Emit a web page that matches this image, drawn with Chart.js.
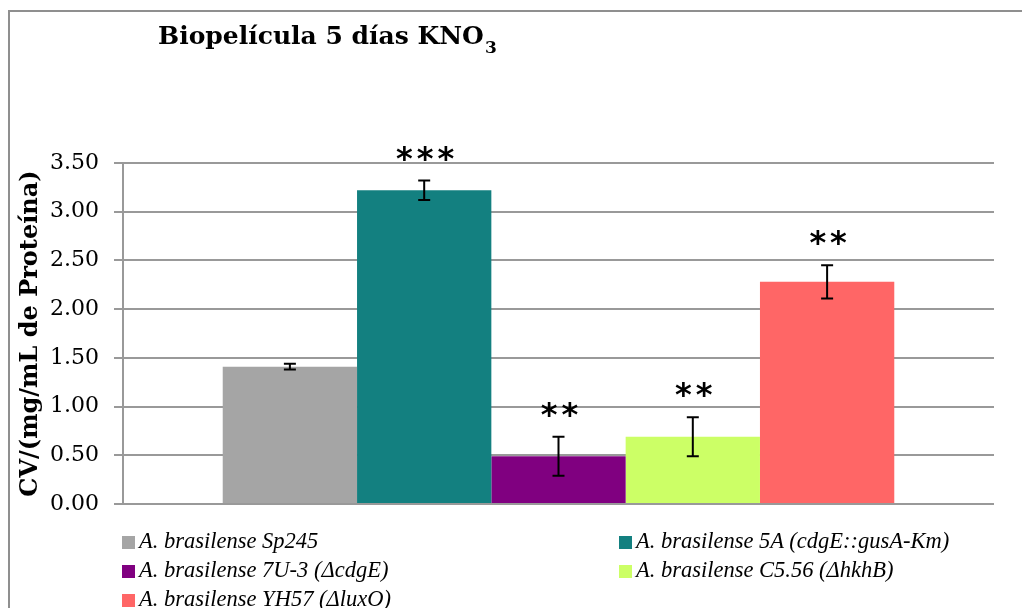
<!DOCTYPE html>
<html>
<head>
<meta charset="utf-8">
<script src="https://cdn.jsdelivr.net/npm/chart.js@4.4.0/dist/chart.umd.min.js"></script>
<style>
  html, body { margin: 0; padding: 0; background: #fff; }
  #wrap { position: relative; width: 1022px; height: 608px; overflow: hidden; }
  #frame { position: absolute; left: 8px; top: 10px; width: 1100px; height: 700px; border: 2px solid #8f8f8f; }
  #chart { position: absolute; left: 0; top: 0; }
  #legend {
    position: absolute; left: 122px; top: 526px;
    display: grid; grid-template-columns: 497px auto;
    font: italic 22.5px "Liberation Serif", serif; line-height: 29px; color: #000;
  }
  #legend .box { display: inline-block; width: 13px; height: 13px; margin-right: 4px; vertical-align: -1px; }
</style>
</head>
<body>
<div id="wrap">
  <div id="frame"></div>
  <canvas id="chart" width="1022" height="608"></canvas>
  <div id="legend"></div>
</div>
<script>
// data
const strainLabels = [
  'A. brasilense Sp245',
  'A. brasilense 5A (cdgE::gusA-Km)',
  'A. brasilense 7U-3 (ΔcdgE)',
  'A. brasilense C5.56 (ΔhkhB)',
  'A. brasilense YH57 (ΔluxO)'
];
const meanValues = [1.41, 3.22, 0.49, 0.69, 2.28];
const errorValues = [0.03, 0.10, 0.20, 0.20, 0.17];
const significance = ['', '***', '**', '**', '**'];
const barColors = ['#A5A5A5', '#138080', '#800080', '#CCFF66', '#FF6666'];

const titleMain = 'Biopelícula 5 días KNO';
const titleSub = '3';

// error bars + asterisks
const errorBarPlugin = {
  id: 'errorBars',
  afterDatasetsDraw(chart) {
    const ctx = chart.ctx;
    const y = chart.scales.y;
    ctx.save();
    ctx.strokeStyle = '#000';
    ctx.lineWidth = 2;
    chart.data.datasets.forEach((ds, i) => {
      const bar = chart.getDatasetMeta(i).data[0];
      const top = y.getPixelForValue(meanValues[i] + errorValues[i]);
      const bot = y.getPixelForValue(meanValues[i] - errorValues[i]);
      ctx.beginPath();
      ctx.moveTo(bar.x, top); ctx.lineTo(bar.x, bot);
      ctx.moveTo(bar.x - 6, top); ctx.lineTo(bar.x + 6, top);
      ctx.moveTo(bar.x - 6, bot); ctx.lineTo(bar.x + 6, bot);
      ctx.stroke();
      if (significance[i]) {
        ctx.fillStyle = '#000';
        ctx.font = 'bold 32px "DejaVu Sans"';
        ctx.textAlign = 'center';
        ctx.textBaseline = 'alphabetic';
        ctx.letterSpacing = '4px';
        ctx.fillText(significance[i], bar.x + 3, top - 12);
      }
    });
    ctx.restore();
  }
};

const titlePlugin = {
  id: 'subTitle',
  afterDraw(chart) {
    const ctx = chart.ctx;
    ctx.save();
    ctx.fillStyle = '#000';
    ctx.textAlign = 'left';
    ctx.textBaseline = 'alphabetic';
    ctx.font = 'bold 25px "DejaVu Serif"';
    ctx.fillText(titleMain, 158, 44);
    const w = ctx.measureText(titleMain).width;
    ctx.font = 'bold 17px "DejaVu Serif"';
    ctx.fillText(titleSub, 158 + w + 1, 53);
    ctx.restore();
  }
};

const datasets = strainLabels.map((name, i) => ({
  label: name,
  data: [meanValues[i]],
  backgroundColor: barColors[i],
  borderWidth: 0,
  barPercentage: 1.0,
  categoryPercentage: 0.771
}));

const chart = new Chart(document.getElementById('chart'), {
  type: 'bar',
  data: { labels: [''], datasets: datasets },
  options: {
    responsive: false,
    animation: false,
    layout: { padding: { left: 8, top: 163, right: 28, bottom: 104 } },
    plugins: {
      legend: { display: false },
      title: { display: false },
      tooltip: { enabled: false }
    },
    scales: {
      x: { display: false },
      y: {
        min: 0,
        max: 3.5,
        afterFit: s => { s.width = 115; },
        ticks: {
          stepSize: 0.5,
          padding: 15,
          color: '#000',
          font: { family: 'DejaVu Serif', size: 22 },
          callback: v => v.toFixed(2)
        },
        grid: { color: '#999', lineWidth: 2, tickLength: 9 },
        border: { color: '#999', width: 2 },
        title: {
          display: true,
          text: 'CV/(mg/mL de Proteína)',
          color: '#000',
          font: { family: 'DejaVu Serif', size: 24, weight: 'bold' },
          padding: { top: 8, bottom: 0 }
        }
      }
    }
  },
  plugins: [errorBarPlugin, titlePlugin]
});

// legend in two columns
const legendEl = document.getElementById('legend');
chart.data.datasets.forEach(ds => {
  const item = document.createElement('div');
  const box = document.createElement('span');
  box.className = 'box';
  box.style.background = ds.backgroundColor;
  item.appendChild(box);
  item.appendChild(document.createTextNode(ds.label));
  legendEl.appendChild(item);
});
</script>
</body>
</html>
